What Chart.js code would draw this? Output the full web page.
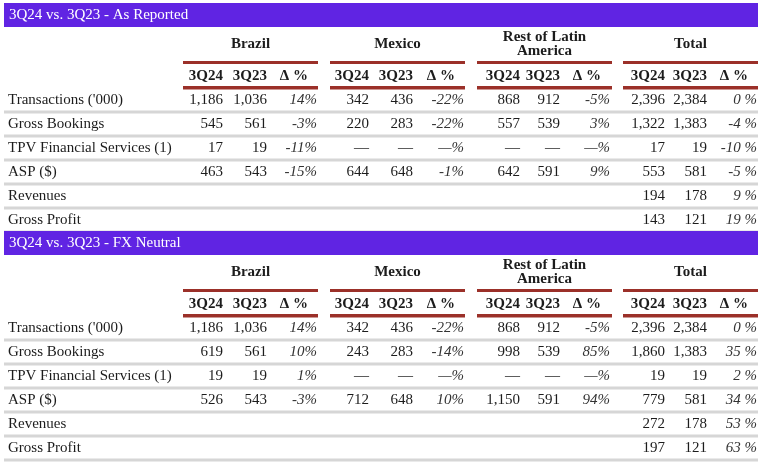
<!DOCTYPE html>
<html>
<head>
<meta charset="utf-8">
<script src="https://cdn.jsdelivr.net/npm/chart.js@4"></script>
<style>
  body { margin: 0; background: #fff; }
  #tbl { display: block; }
</style>
</head>
<body>
<canvas id="tbl" width="768" height="469"></canvas>
<script>
// table content
const sectionTitles = ["3Q24 vs. 3Q23 - As Reported", "3Q24 vs. 3Q23 - FX Neutral"];
const regions = [["Brazil"], ["Mexico"], ["Rest of Latin", "America"], ["Total"]];
const columns = ["3Q24", "3Q23", "Δ %"];
const metrics = ["Transactions ('000)", "Gross Bookings", "TPV Financial Services (1)", "ASP ($)", "Revenues", "Gross Profit"];

// [3Q24, 3Q23, delta %] per metric, null = dash
const repBrazil = [[1186, 1036, 14], [545, 561, -3], [17, 19, -11], [463, 543, -15]];
const repMexico = [[342, 436, -22], [220, 283, -22], [null, null, null], [644, 648, -1]];
const repRest = [[868, 912, -5], [557, 539, 3], [null, null, null], [642, 591, 9]];
const repTotal = [[2396, 2384, 0], [1322, 1383, -4], [17, 19, -10], [553, 581, -5], [194, 178, 9], [143, 121, 19]];

const fxBrazil = [[1186, 1036, 14], [619, 561, 10], [19, 19, 1], [526, 543, -3]];
const fxMexico = [[342, 436, -22], [243, 283, -14], [null, null, null], [712, 648, 10]];
const fxRest = [[868, 912, -5], [998, 539, 85], [null, null, null], [1150, 591, 94]];
const fxTotal = [[2396, 2384, 0], [1860, 1383, 35], [19, 19, 2], [779, 581, 34], [272, 178, 53], [197, 121, 63]];

const sections = [[repBrazil, repMexico, repRest, repTotal], [fxBrazil, fxMexico, fxRest, fxTotal]];

// layout, in scale units
const sectionTop = [3, 231];
const regionSpan = [[183, 318], [330, 465], [477, 612], [623, 758]];
const colRight = [[223, 267, 317], [369, 413, 464], [520, 560, 610], [665, 707, 757]];
const tableLeft = 4, tableRight = 758, labelX = 8;

const purple = "#6024e3";
const rule = "#9b3029";
const sep = "#d6d6d6";
const ink = "#1c1c1c";
const font = "'Liberation Serif', 'Times New Roman', serif";

function fmtNum(v) {
  return v == null ? "—" : v.toLocaleString("en-US");
}
function fmtPct(v, total) {
  if (v == null) return "—%";
  return v + (total ? " %" : "%");
}

const tablePlugin = {
  id: "table",
  afterDraw(chart) {
    const ctx = chart.ctx;
    const xs = chart.scales.x, ys = chart.scales.y;
    const X = v => xs.getPixelForValue(v);
    const Y = v => ys.getPixelForValue(v);
    function band(x0, x1, y0, y1, color) {
      ctx.fillStyle = color;
      ctx.fillRect(X(x0), Y(y0), X(x1) - X(x0), Y(y1) - Y(y0));
    }
    function text(str, x, y, align, style) {
      ctx.font = style;
      ctx.textAlign = align;
      ctx.textBaseline = "middle";
      ctx.fillText(str, X(x), Y(y));
    }
    ctx.save();
    sections.forEach((data, s) => {
      const top = sectionTop[s];
      // row separators
      metrics.forEach((m, r) => {
        const yc = top + 109 + r * 24;
        band(tableLeft, tableRight, yc - 1.5, yc + 1.5, sep);
      });
    });
    sections.forEach((data, s) => {
      const top = sectionTop[s];
      // title bar
      band(tableLeft, tableRight, top, top + 24, purple);
      ctx.fillStyle = "#fff";
      text(sectionTitles[s], labelX + 1, top + 12.5, "left", "15px " + font);

      regions.forEach((reg, g) => {
        const [a, b] = regionSpan[g];
        ctx.fillStyle = ink;
        if (reg.length === 1) {
          text(reg[0], (a + b) / 2, top + 41, "center", "bold 15px " + font);
        } else {
          text(reg[0], (a + b) / 2, top + 34, "center", "bold 15px " + font);
          text(reg[1], (a + b) / 2, top + 48, "center", "bold 15px " + font);
        }
        band(a, b, top + 58, top + 61, rule);
        band(a, b, top + 83, top + 86.5, rule);
        ctx.fillStyle = ink;
        columns.forEach((c, k) => {
          const xr = k === 2 ? colRight[g][k] - 9 : colRight[g][k];
          text(c, xr, top + 73, "right", "bold 15px " + font);
        });
        const rows = data[g];
        rows.forEach((vals, r) => {
          const yc = top + 97.5 + r * 24;
          ctx.fillStyle = ink;
          text(fmtNum(vals[0]), colRight[g][0], yc, "right", "15px " + font);
          text(fmtNum(vals[1]), colRight[g][1], yc, "right", "15px " + font);
          ctx.fillStyle = "#333";
          text(fmtPct(vals[2], g === 3), colRight[g][2], yc, "right", "italic 15px " + font);
        });
      });
      ctx.fillStyle = ink;
      metrics.forEach((m, r) => {
        text(m, labelX, top + 97.5 + r * 24, "left", "15px " + font);
      });
    });
    ctx.restore();
  }
};

new Chart(document.getElementById("tbl"), {
  type: "scatter",
  data: { datasets: [] },
  options: {
    responsive: false,
    devicePixelRatio: 1,
    animation: false,
    layout: { padding: 0 },
    plugins: { legend: { display: false }, tooltip: { enabled: false } },
    scales: {
      x: { type: "linear", min: 0, max: 768, display: false },
      y: { type: "linear", min: 0, max: 469, reverse: true, display: false }
    }
  },
  plugins: [tablePlugin]
});
</script>
</body>
</html>
